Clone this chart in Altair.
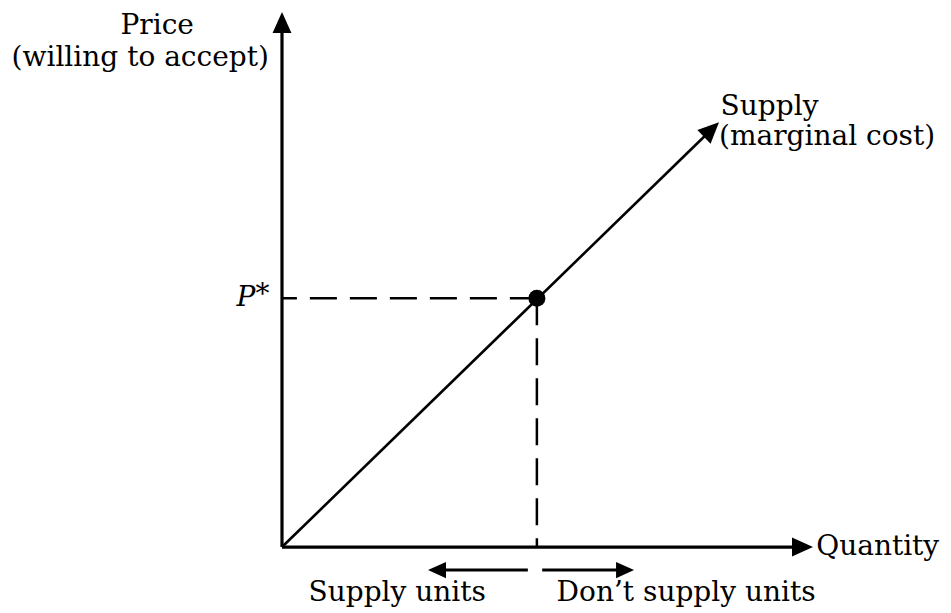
import math
import altair as alt
import pandas as pd

# ---- data (economic diagram coordinates) ----
axis_end_q = 100.0          # end of quantity axis (arrow tip)
axis_end_p = 100.0          # end of price axis (arrow tip)
q_star = 48.0               # equilibrium quantity
p_star = 46.5               # equilibrium price P*
supply_end_q = 82.3         # supply curve end (arrow tip)
supply_end_p = 79.4
arrow_row_p = -4.3          # level of the two small arrows under the axis
left_arrow_q = [46.3, 27.5]   # start, tip
right_arrow_q = [49.0, 66.3]  # start, tip

labels_text = ["Price", "(willing to accept)", "Supply", "(marginal cost)",
               "Quantity", "Supply units", "Don\u2019t supply units"]

# ---- layout ----
W, H = 935, 605
X_DOM = [-51.60, 124.48]
Y_DOM = [-12.33, 100.75]
KX = W / (X_DOM[1] - X_DOM[0])
KY = H / (Y_DOM[1] - Y_DOM[0])
FONT = "DejaVu Serif"
FS = 28

xs = alt.Scale(domain=X_DOM, nice=False, zero=False)
ys = alt.Scale(domain=Y_DOM, nice=False, zero=False)


def seg(q1, p1, q2, p2, **mk):
    df = pd.DataFrame({"q": [q1], "p": [p1], "q2": [q2], "p2": [p2]})
    return alt.Chart(df).mark_rule(color="black", strokeCap="butt", **mk).encode(
        x=alt.X("q:Q", scale=xs, axis=None),
        y=alt.Y("p:Q", scale=ys, axis=None),
        x2="q2:Q", y2="p2:Q")


HEAD = "M0,-1L0.9,1L-0.9,1Z"


def head(q, p, angle, length):
    a = math.radians(angle)
    ux, uy = math.sin(a), -math.cos(a)
    df = pd.DataFrame({"q": [q], "p": [p]})
    return alt.Chart(df).mark_point(
        shape=HEAD, filled=True, fill="black", stroke="black", strokeWidth=0,
        opacity=1, size=length ** 2, angle=angle % 360,
        xOffset=-ux * length / 2, yOffset=-uy * length / 2).encode(
        x=alt.X("q:Q", scale=xs, axis=None),
        y=alt.Y("p:Q", scale=ys, axis=None))


def txt(q, p, s, align="left", baseline="alphabetic", italic=False, dx=0, dy=0):
    df = pd.DataFrame({"q": [q], "p": [p], "t": [s]})
    kw = {}
    if italic:
        kw["fontStyle"] = "italic"
    return alt.Chart(df).mark_text(font=FONT, fontSize=FS, color="black",
                                   align=align, baseline=baseline,
                                   dx=dx, dy=dy, **kw).encode(
        x=alt.X("q:Q", scale=xs, axis=None),
        y=alt.Y("p:Q", scale=ys, axis=None),
        text="t:N")


L_MAIN = 21
L_SMALL = 18
sup_angle = math.degrees(math.atan2(supply_end_q * KX, supply_end_p * KY))
sa = math.radians(sup_angle)

layers = [
    # dashed guides
    seg(q_star, p_star, 0, p_star, strokeWidth=2.5, strokeDash=[27, 13]),
    seg(q_star, p_star, q_star, 0, strokeWidth=2.5, strokeDash=[27, 13]),
    # axes
    seg(0, 0, 0, axis_end_p, strokeWidth=3.2, y2Offset=L_MAIN / 2),
    seg(0, 0, axis_end_q, 0, strokeWidth=3.2, x2Offset=-L_MAIN / 2),
    # supply curve
    seg(0, 0, supply_end_q, supply_end_p, strokeWidth=2.6,
        x2Offset=-math.sin(sa) * L_MAIN / 2, y2Offset=math.cos(sa) * L_MAIN / 2),
    # small arrows
    seg(left_arrow_q[0], arrow_row_p, left_arrow_q[1], arrow_row_p,
        strokeWidth=3, x2Offset=L_SMALL / 2),
    seg(right_arrow_q[0], arrow_row_p, right_arrow_q[1], arrow_row_p,
        strokeWidth=3, x2Offset=-L_SMALL / 2),
    # arrow heads
    head(0, axis_end_p, 0, L_MAIN),
    head(axis_end_q, 0, 90, L_MAIN),
    head(supply_end_q, supply_end_p, sup_angle, L_MAIN),
    head(left_arrow_q[1], arrow_row_p, 270, L_SMALL),
    head(right_arrow_q[1], arrow_row_p, 90, L_SMALL),
]

# equilibrium point
pt = pd.DataFrame({"q": [q_star], "p": [p_star]})
layers.append(alt.Chart(pt).mark_point(shape="circle", filled=True, fill="black",
                                       opacity=1, size=290, strokeWidth=0).encode(
    x=alt.X("q:Q", scale=xs, axis=None), y=alt.Y("p:Q", scale=ys, axis=None)))

# labels
layers += [
    txt(-23.5, 95.8, labels_text[0], align="center"),
    txt(-26.7, 89.9, labels_text[1], align="center"),
    txt(82.6, 80.8, labels_text[2]),
    txt(82.3, 75.1, labels_text[3]),
    txt(100.6, 0, labels_text[4], baseline="middle"),
    txt(21.7, -10.1, labels_text[5], align="center"),
    txt(76.1, -10.1, labels_text[6], align="center"),
    txt(-5.0, p_star, "P", align="right", baseline="middle", italic=True),
    txt(-5.0, p_star, "*", align="left", baseline="middle", dx=0, dy=-3),
]

chart = alt.layer(*layers).properties(
    width=W, height=H, padding=0,
    autosize=alt.AutoSizeParams(type="none"),
    background="white",
).configure_view(stroke=None)

chart.save("out.html", embed_options={"renderer": "svg", "actions": False})
